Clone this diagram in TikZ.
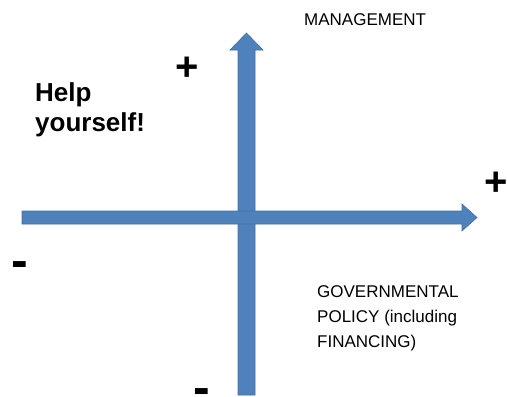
\documentclass[tikz,border=0pt]{standalone}
\usepackage{fontspec}
\setmainfont{Liberation Sans}
\definecolor{axisfill}{HTML}{4F81BD}
\definecolor{axisline}{HTML}{41719C}
\begin{document}
\begin{tikzpicture}[x=1pt,y=-1pt,
  axisarrow/.style={fill=axisfill,draw=axisline,line width=0.6pt,line join=miter},
  small/.style={font=\fontsize{17}{25}\selectfont,inner sep=0pt,align=left},
  big/.style={font=\bfseries\fontsize{26}{30}\selectfont,inner sep=0pt,align=left},
  sign/.style={font=\bfseries\fontsize{40}{40}\selectfont,inner sep=0pt},
  minussign/.style={font=\bfseries\fontsize{50}{50}\selectfont,inner sep=0pt}]
\useasboundingbox (0,0) rectangle (507,397);
% vertical axis
\draw[axisarrow] (238,395) -- (238,50) -- (230,50) -- (246.5,33) -- (263,50) -- (255,50) -- (255,395) -- cycle;
% horizontal axis
\draw[axisarrow] (22,211) -- (462,211) -- (462,204) -- (477,217.5) -- (462,231) -- (462,224) -- (22,224) -- cycle;
% labels
\node[small,anchor=north west] (mgmt) at (304,13) {MANAGEMENT};
\node[small,anchor=north west] (gov) at (317,285) {GOVERNMENTAL\\POLICY (including\\FINANCING)};
\node[big,anchor=north west] (help) at (35,82) {Help\\yourself!};
\node[sign] (plusv) at (187,69) {+};
\node[sign] (plush) at (496,183.5) {+};
\node[minussign] (minush) at (19.5,261.5) {\raisebox{-13pt}[5pt][0pt]{-}};
\node[minussign] (minusv) at (201.5,389) {\raisebox{-13pt}[5pt][0pt]{-}};
\end{tikzpicture}
\end{document}
